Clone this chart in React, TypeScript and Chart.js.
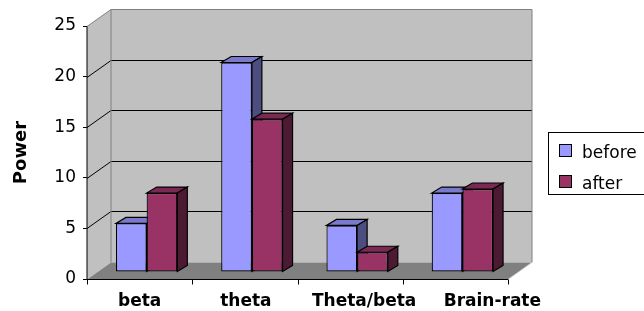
import React, { useEffect, useRef } from "react";
import { Chart, registerables } from "chart.js";
Chart.register(...registerables);

const categories = ["beta", "theta", "Theta/beta", "Brain-rate"];
const beforeValues = [4.8, 20.7, 4.6, 7.8];
const afterValues = [7.8, 15.1, 1.95, 8.2];
const seriesLabels = ["before", "after"];
const gridValues = [5, 10, 15, 20];
const labelNudge = [0, 1, 14, 37];

const FRONT = ["#9999ff", "#993366"];
const TOP = ["#7a7acc", "#7a2952"];
const SIDE = ["#4d4d80", "#4d1a33"];
const WALL = { dx: 24, dy: -17 };
const BAR_SHIFT = { dx: 7, dy: -7 };
const DEPTH = { dx: 10, dy: -6 };

function poly(ctx: CanvasRenderingContext2D, pts: number[][], fill?: string, stroke?: string, lw = 1) {
  ctx.beginPath();
  ctx.moveTo(pts[0][0], pts[0][1]);
  for (let i = 1; i < pts.length; i++) ctx.lineTo(pts[i][0], pts[i][1]);
  ctx.closePath();
  if (fill) { ctx.fillStyle = fill; ctx.fill(); }
  if (stroke) { ctx.strokeStyle = stroke; ctx.lineWidth = lw; ctx.stroke(); }
}
function line(ctx: CanvasRenderingContext2D, pts: number[][], stroke: string, lw = 1) {
  ctx.beginPath();
  ctx.moveTo(pts[0][0], pts[0][1]);
  for (let i = 1; i < pts.length; i++) ctx.lineTo(pts[i][0], pts[i][1]);
  ctx.strokeStyle = stroke; ctx.lineWidth = lw; ctx.stroke();
}

const threeD = {
  id: "threeD",
  beforeDatasetsDraw(chart: any) {
    const { ctx, chartArea: ca, scales } = chart;
    const y = scales.y;
    const x = scales.x;
    const L = ca.left, R = ca.right;
    const B = Math.round(y.getPixelForValue(0)) + 0.5;
    const T = Math.round(y.getPixelForValue(25)) + 0.5;
    const dx = WALL.dx, dy = WALL.dy;
    ctx.save();
    // left wall
    poly(ctx, [[L, T], [L + dx, T + dy], [L + dx, B + dy], [L, B]], "#c0c0c0");
    // back wall
    poly(ctx, [[L + dx, T + dy], [R + dx, T + dy], [R + dx, B + dy], [L + dx, B + dy]], "#c0c0c0");
    // floor
    poly(ctx, [[L, B], [R, B], [R + dx, B + dy], [L + dx, B + dy]], "#808080");
    // gridlines
    for (const v of gridValues) {
      const py = Math.round(y.getPixelForValue(v)) + 0.5;
      line(ctx, [[L, py], [L + dx, py + dy], [R + dx, py + dy]], "#000", 1);
    }
    // wall outlines
    line(ctx, [[L, T], [L + dx, T + dy], [R + dx, T + dy], [R + dx, B + dy]], "#808080", 1);
    line(ctx, [[L + dx, T + dy], [L + dx, B + dy]], "#808080", 1);
    line(ctx, [[R, B], [R + dx, B + dy]], "#d8d8d8", 1);
    // front axes
    line(ctx, [[L, T], [L, B]], "#000", 1);
    line(ctx, [[L, B], [R, B]], "#000", 1);
    const n = categories.length;
    for (let i = 0; i <= n; i++) {
      const px = Math.round(L + ((R - L) * i) / n) + 0.5;
      line(ctx, [[px, B], [px, B + 5]], "#000", 1);
    }
    // bars
    for (let i = 0; i < n; i++) {
      for (let d = 0; d < 2; d++) {
        const el: any = chart.getDatasetMeta(d).data[i];
        if (!el) continue;
        const p = el.getProps(["x", "y", "base", "width"], true);
        const xl = p.x - p.width / 2, xr = p.x + p.width / 2;
        ctx.save();
        ctx.translate(BAR_SHIFT.dx, BAR_SHIFT.dy);
        el.draw(ctx);
        poly(ctx, [[xl, p.y], [xr, p.y], [xr + DEPTH.dx, p.y + DEPTH.dy], [xl + DEPTH.dx, p.y + DEPTH.dy]], TOP[d], "#000", 1.2);
        poly(ctx, [[xr, p.y], [xr + DEPTH.dx, p.y + DEPTH.dy], [xr + DEPTH.dx, p.base + DEPTH.dy], [xr, p.base]], SIDE[d], "#000", 1.2);
        ctx.restore();
      }
    }
    // category labels
    ctx.fillStyle = "#000";
    ctx.font = "bold 17px 'DejaVu Sans'";
    ctx.textAlign = "center";
    ctx.textBaseline = "middle";
    categories.forEach((c, i) => {
      ctx.fillText(c, x.getPixelForValue(i) + labelNudge[i], B + 22);
    });
    // legend
    const lx = R + 40;
    const ly = Math.round(y.getPixelForValue(15)) + 5.5;
    ctx.strokeStyle = "#000";
    ctx.lineWidth = 1;
    ctx.strokeRect(lx + 0.5, ly, 120, 62);
    ctx.font = "17px 'DejaVu Sans'";
    ctx.textAlign = "left";
    ctx.textBaseline = "alphabetic";
    seriesLabels.forEach((s, k) => {
      const sy = ly + 12 + k * 31;
      ctx.fillStyle = FRONT[k];
      ctx.fillRect(lx + 11.5, sy, 12, 12);
      ctx.strokeRect(lx + 11.5, sy, 12, 12);
      ctx.fillStyle = "#000";
      ctx.fillText(s, lx + 34, sy + 13);
    });
    ctx.restore();
    return false;
  },
};

export default function App() {
  const ref = useRef<HTMLCanvasElement>(null);
  useEffect(() => {
    if (!ref.current) return;
    const chart = new Chart(ref.current, {
      type: "bar",
      data: {
        labels: categories,
        datasets: [
          { label: seriesLabels[0], data: beforeValues, backgroundColor: FRONT[0], borderColor: "#000", borderWidth: 1.2, borderSkipped: false },
          { label: seriesLabels[1], data: afterValues, backgroundColor: FRONT[1], borderColor: "#000", borderWidth: 1.2, borderSkipped: false },
        ],
      } as any,
      options: {
        animation: false,
        responsive: false,
        layout: { padding: { left: 0, right: 136, top: 26, bottom: 32 } },
        plugins: { legend: { display: false }, tooltip: { enabled: false } },
        datasets: { bar: { categoryPercentage: 0.583, barPercentage: 1 } },
        scales: {
          x: { display: false },
          y: {
            min: 0,
            max: 25,
            afterFit: (s: any) => { s.width = 87; },
            ticks: { stepSize: 5, color: "#000", font: { family: "DejaVu Sans", size: 17 }, padding: 7 },
            grid: { drawOnChartArea: false, tickLength: 4, color: "#000" },
            border: { color: "#000" },
            title: { display: true, text: "Power", color: "#000", font: { family: "DejaVu Sans", size: 18, weight: "bold" }, padding: { top: 11, bottom: 0 } },
          },
        },
      } as any,
      plugins: [threeD],
    });
    return () => chart.destroy();
  }, []);
  return (
    <div style={{ position: "fixed", left: 0, top: 0, width: 644, height: 311 }}>
      <canvas ref={ref} width={644} height={311} style={{ display: "block" }} />
    </div>
  );
}
